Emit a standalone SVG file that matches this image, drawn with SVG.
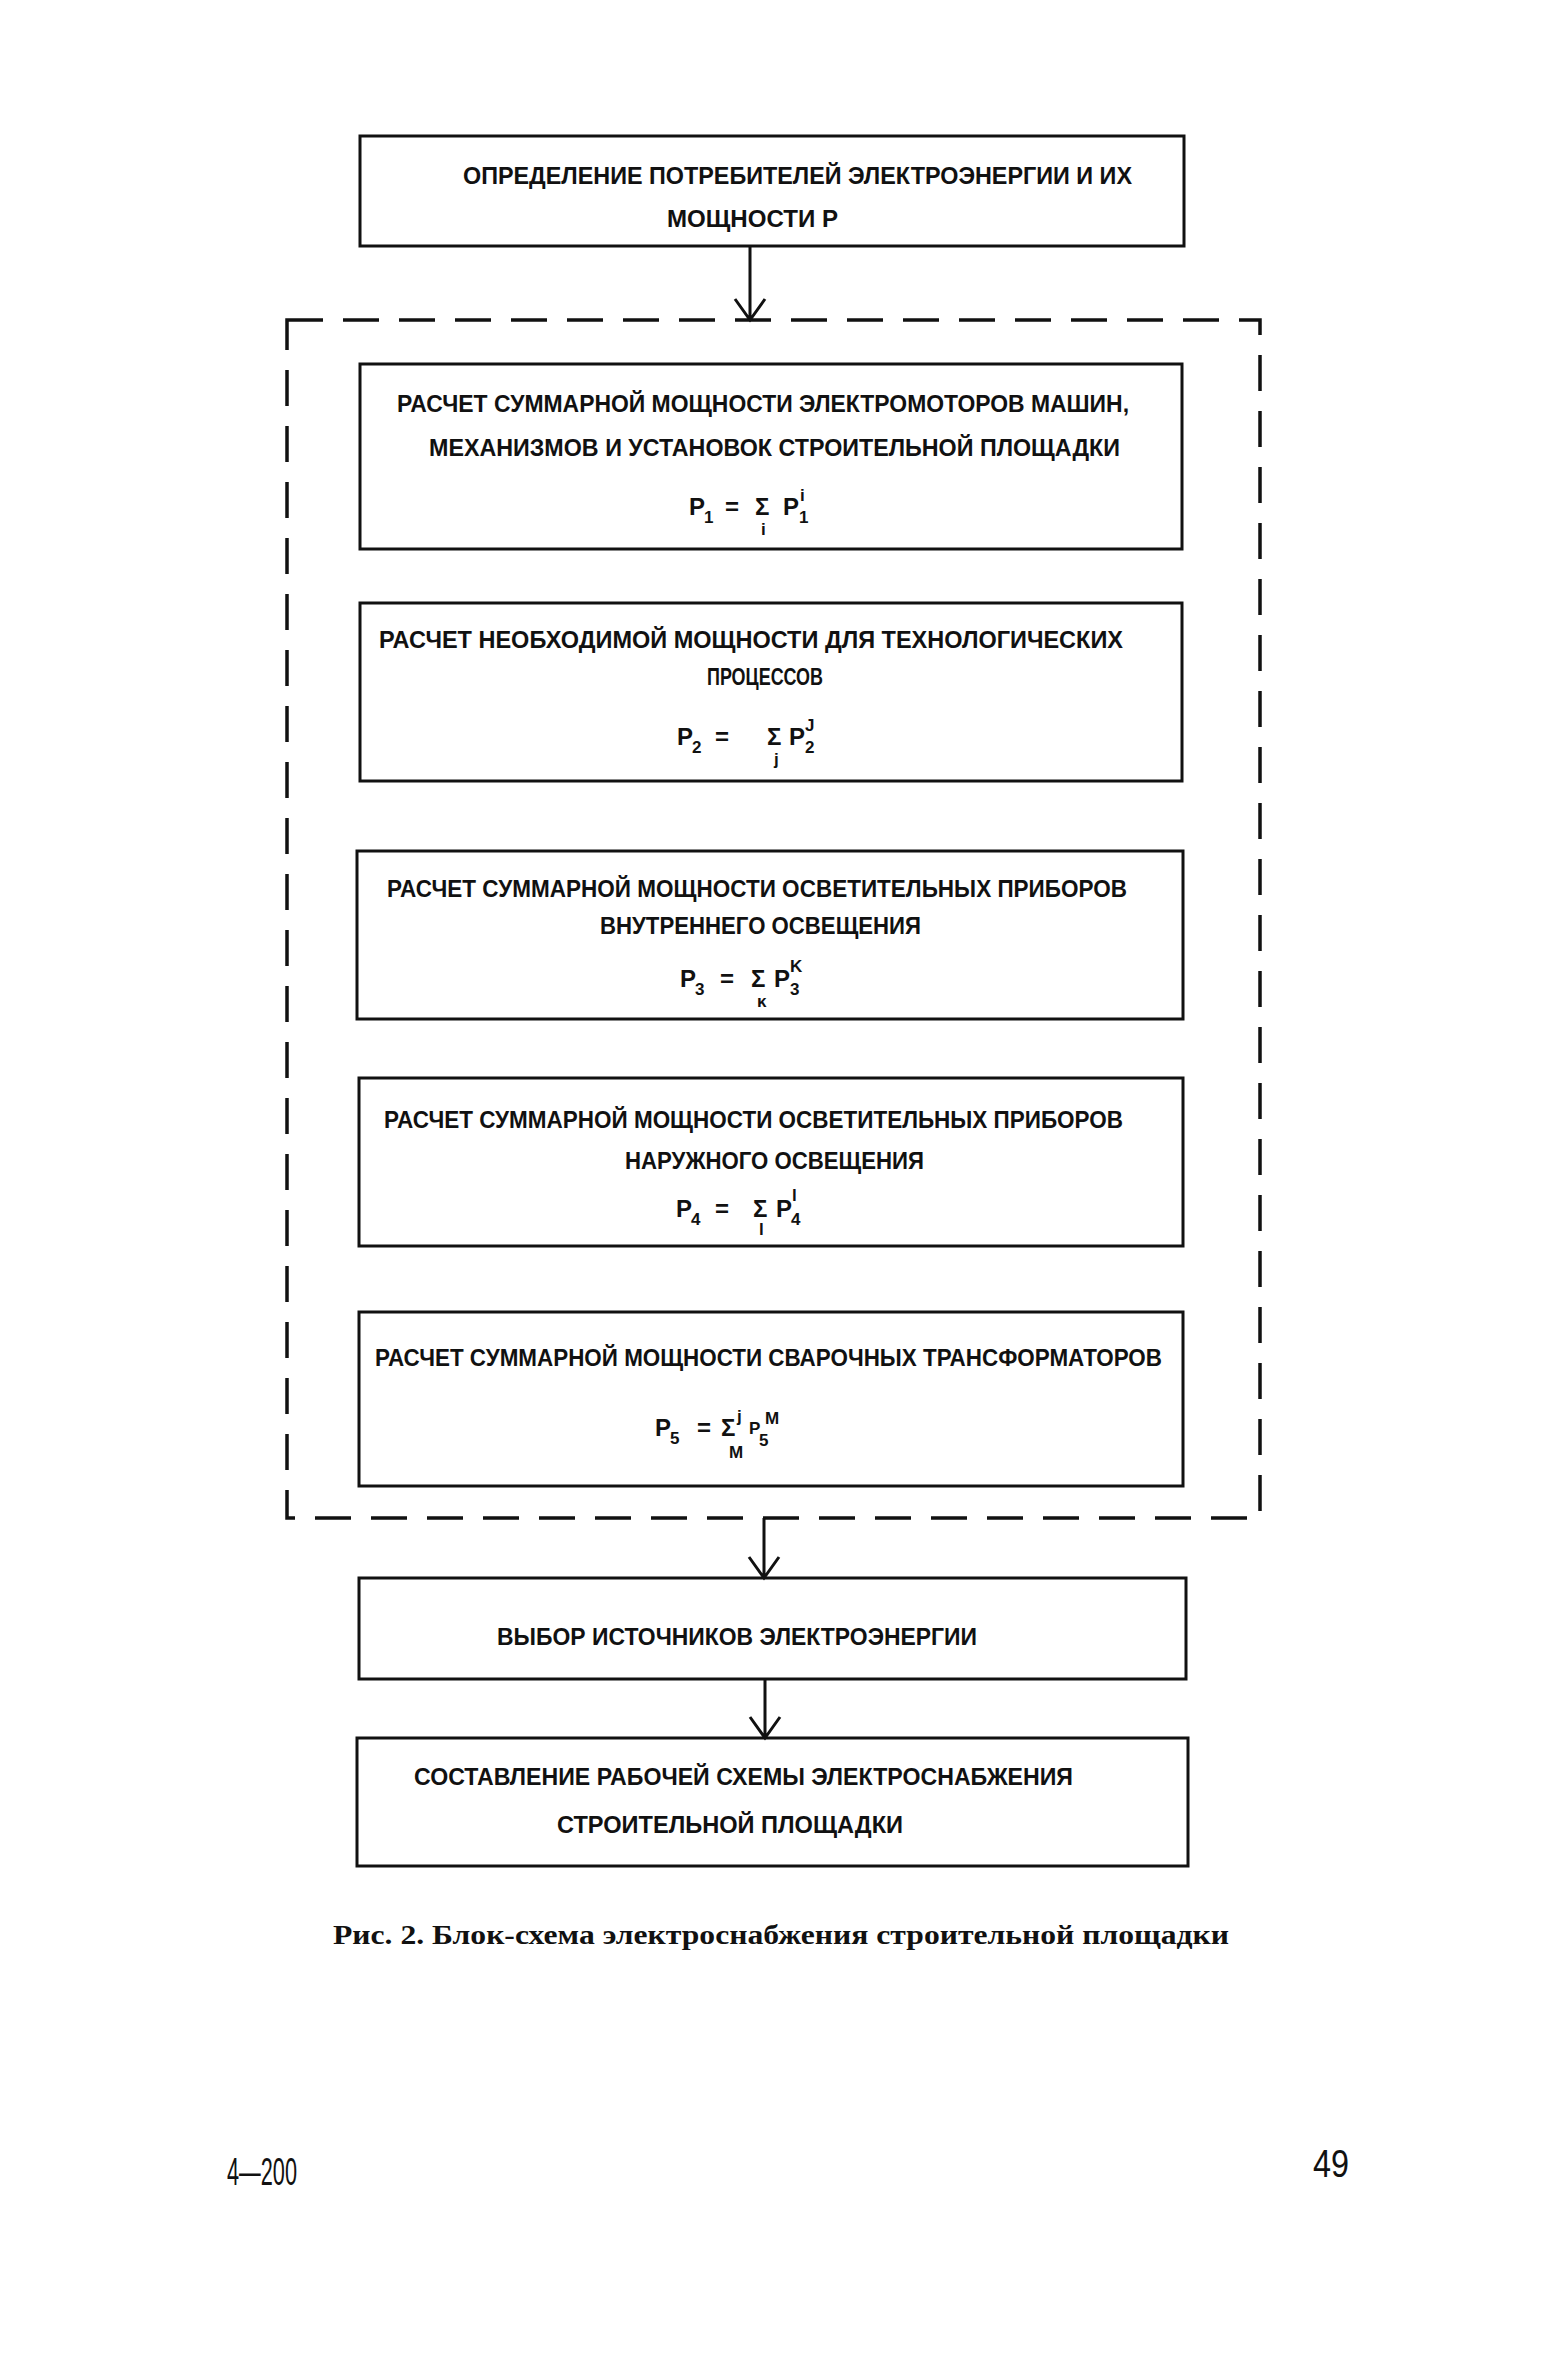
<svg xmlns="http://www.w3.org/2000/svg" width="1541" height="2370" viewBox="0 0 1541 2370">
<defs>
<style>
.box{fill:none;stroke:#111;stroke-width:3}
.dash{fill:none;stroke:#111;stroke-width:3.5;stroke-dasharray:36 20}
.t{font-family:"Liberation Sans",Arial,sans-serif;font-weight:bold;font-size:23px;fill:#111}
.f{font-family:"Liberation Sans",Arial,sans-serif;font-weight:bold;font-size:24px;fill:#111}
.s{font-family:"Liberation Sans",Arial,sans-serif;font-weight:bold;font-size:17px;fill:#111}
.cap{font-family:"Liberation Serif","Times New Roman",serif;font-weight:bold;font-size:27px;fill:#111}
.pg{font-family:"Liberation Sans",Arial,sans-serif;font-size:38px;fill:#111}
.conn{fill:none;stroke:#111;stroke-width:3}
</style>
</defs>
<rect width="1541" height="2370" fill="#fff"/>

<g id="group-frame">
<rect class="dash" x="287" y="320" width="973" height="1198"/>
</g>

<g id="n0">
<rect class="box" x="360" y="136" width="824" height="110"/>
<text class="t" x="463" y="184" textLength="669" lengthAdjust="spacingAndGlyphs">ОПРЕДЕЛЕНИЕ ПОТРЕБИТЕЛЕЙ  ЭЛЕКТРОЭНЕРГИИ И ИХ</text>
<text class="t" x="667" y="227" textLength="171" lengthAdjust="spacingAndGlyphs">МОЩНОСТИ  Р</text>
</g>

<g id="n1">
<rect class="box" x="360" y="364" width="822" height="185"/>
<text class="t" x="397" y="412" textLength="732" lengthAdjust="spacingAndGlyphs">РАСЧЕТ СУММАРНОЙ МОЩНОСТИ  ЭЛЕКТРОМОТОРОВ МАШИН,</text>
<text class="t" x="429" y="456" textLength="691" lengthAdjust="spacingAndGlyphs">МЕХАНИЗМОВ И УСТАНОВОК  СТРОИТЕЛЬНОЙ ПЛОЩАДКИ</text>
<text class="f" x="689" y="515">P</text>
<text class="s" x="704" y="523">1</text>
<text class="f" x="725" y="515">=</text>
<text class="f" x="755" y="515">Σ</text>
<text class="s" x="761" y="535">i</text>
<text class="f" x="783" y="515">P</text>
<text class="s" x="800" y="501">i</text>
<text class="s" x="799" y="523">1</text>
</g>

<g id="n2">
<rect class="box" x="360" y="603" width="822" height="178"/>
<text class="t" x="379" y="648" textLength="744" lengthAdjust="spacingAndGlyphs">РАСЧЕТ НЕОБХОДИМОЙ МОЩНОСТИ  ДЛЯ ТЕХНОЛОГИЧЕСКИХ</text>
<text class="t" x="707" y="685" textLength="116" lengthAdjust="spacingAndGlyphs">ПРОЦЕССОВ</text>
<text class="f" x="677" y="745">P</text>
<text class="s" x="692" y="753">2</text>
<text class="f" x="715" y="745">=</text>
<text class="f" x="767" y="745">Σ</text>
<text class="s" x="774" y="765">j</text>
<text class="f" x="789" y="745">P</text>
<text class="s" x="805" y="731">J</text>
<text class="s" x="805" y="753">2</text>
</g>

<g id="n3">
<rect class="box" x="357" y="851" width="826" height="168"/>
<text class="t" x="387" y="897" textLength="740" lengthAdjust="spacingAndGlyphs">РАСЧЕТ СУММАРНОЙ МОЩНОСТИ  ОСВЕТИТЕЛЬНЫХ ПРИБОРОВ</text>
<text class="t" x="600" y="934" textLength="321" lengthAdjust="spacingAndGlyphs">ВНУТРЕННЕГО ОСВЕЩЕНИЯ</text>
<text class="f" x="680" y="987">P</text>
<text class="s" x="695" y="995">3</text>
<text class="f" x="720" y="987">=</text>
<text class="f" x="751" y="987">Σ</text>
<text class="s" x="757" y="1007">κ</text>
<text class="f" x="774" y="987">P</text>
<text class="s" x="790" y="972">K</text>
<text class="s" x="790" y="995">3</text>
</g>

<g id="n4">
<rect class="box" x="359" y="1078" width="824" height="168"/>
<text class="t" x="384" y="1128" textLength="739" lengthAdjust="spacingAndGlyphs">РАСЧЕТ СУММАРНОЙ МОЩНОСТИ  ОСВЕТИТЕЛЬНЫХ ПРИБОРОВ</text>
<text class="t" x="625" y="1169" textLength="299" lengthAdjust="spacingAndGlyphs">НАРУЖНОГО ОСВЕЩЕНИЯ</text>
<text class="f" x="676" y="1217">P</text>
<text class="s" x="691" y="1225">4</text>
<text class="f" x="715" y="1217">=</text>
<text class="f" x="753" y="1217">Σ</text>
<text class="s" x="759" y="1235">l</text>
<text class="f" x="776" y="1217">P</text>
<text class="s" x="792" y="1201">l</text>
<text class="s" x="791" y="1225">4</text>
</g>

<g id="n5">
<rect class="box" x="359" y="1312" width="824" height="174"/>
<text class="t" x="375" y="1366" textLength="787" lengthAdjust="spacingAndGlyphs">РАСЧЕТ СУММАРНОЙ МОЩНОСТИ  СВАРОЧНЫХ ТРАНСФОРМАТОРОВ</text>
<text class="f" x="655" y="1436">P</text>
<text class="s" x="670" y="1444">5</text>
<text class="f" x="697" y="1436">=</text>
<text class="f" x="721" y="1436">Σ</text>
<text class="s" x="737" y="1422">j</text>
<text class="s" x="749" y="1434">P</text>
<text class="s" x="765" y="1424">M</text>
<text class="s" x="759" y="1446">5</text>
<text class="s" x="729" y="1458">M</text>
</g>

<g id="n6">
<rect class="box" x="359" y="1578" width="827" height="101"/>
<text class="t" x="497" y="1645" textLength="480" lengthAdjust="spacingAndGlyphs">ВЫБОР ИСТОЧНИКОВ  ЭЛЕКТРОЭНЕРГИИ</text>
</g>

<g id="n7">
<rect class="box" x="357" y="1738" width="831" height="128"/>
<text class="t" x="414" y="1785" textLength="659" lengthAdjust="spacingAndGlyphs">СОСТАВЛЕНИЕ РАБОЧЕЙ СХЕМЫ  ЭЛЕКТРОСНАБЖЕНИЯ</text>
<text class="t" x="557" y="1833" textLength="346" lengthAdjust="spacingAndGlyphs">СТРОИТЕЛЬНОЙ  ПЛОЩАДКИ</text>
</g>

<g id="connectors">
<path class="conn" d="M750 246 V320 M735 299 L750 320 L765 299"/>
<path class="conn" d="M764 1518 V1578 M749 1557 L764 1578 L779 1557"/>
<path class="conn" d="M765 1679 V1738 M750 1717 L765 1738 L780 1717"/>
</g>

<g id="caption">
<text class="cap" x="333" y="1944" textLength="896" lengthAdjust="spacingAndGlyphs">Рис. 2. Блок-схема электроснабжения строительной площадки</text>
</g>

<g id="page-numbers">
<text class="pg" x="227" y="2185" textLength="70" lengthAdjust="spacingAndGlyphs">4—200</text>
<text class="pg" x="1313" y="2177" textLength="36" lengthAdjust="spacingAndGlyphs">49</text>
</g>
</svg>
